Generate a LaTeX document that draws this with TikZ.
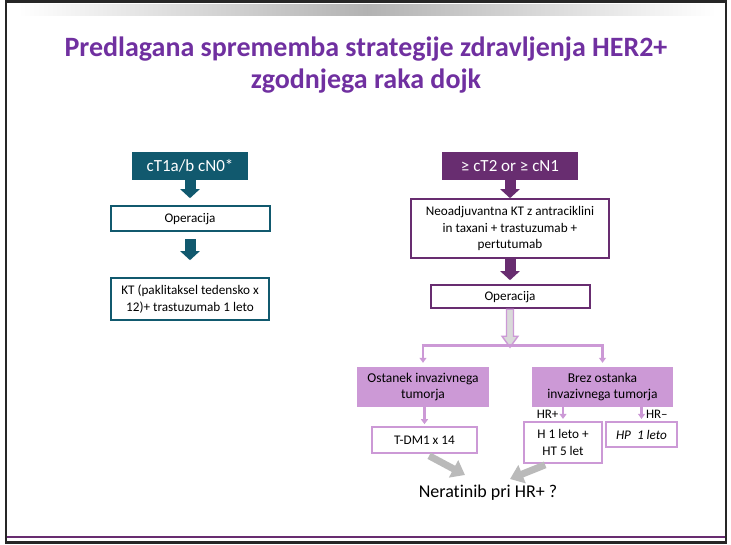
\documentclass[tikz,border=0pt]{standalone}
\usepackage{fontspec}
\setmainfont{Carlito}[Ligatures=NoCommon]
\usetikzlibrary{arrows.meta, positioning}
\usepackage{xcolor}
\definecolor{deepteal}{RGB}{17,89,110}
\definecolor{deepplum}{RGB}{104,45,112}
\definecolor{lilac}{RGB}{204,153,214}
\definecolor{titleplum}{RGB}{112,48,160}
\tikzset{
  headbox/.style = {rectangle, text=white, inner sep=0pt, minimum height=28pt, font=\fontsize{17}{20}\selectfont},
  stepbox/.style = {rectangle, draw, line width=2pt, fill=white, inner sep=0pt, align=center, font=\fontsize{13.2}{16.5}\selectfont},
  lilacbox/.style = {rectangle, fill=lilac, inner sep=0pt, align=center, minimum height=40pt, font=\fontsize{13.5}{16.5}\selectfont},
  lilacstep/.style = {stepbox, draw=lilac, line width=2.2pt},
  thickarrow/.style = {line width=11pt, -{Triangle[width=19pt, length=9pt]}},
  drop/.style = {draw=lilac, line width=2.5pt, -{Triangle[width=7pt, length=5pt]}},
  grayarrow/.style = {draw=black!27, line width=7pt, -{Triangle[width=19pt, length=13pt]}}
}

\begin{document}
\begin{tikzpicture}[x=1pt, y=-1pt]
\useasboundingbox (0,0) rectangle (731,544);

% slide frame
\shade[left color=white, right color=white, middle color=black!30] (18,4) rectangle (716,15);
\draw[line width=2.2pt, black!85] (6,1.5) rectangle (726,542.5);
\draw[line width=2pt, deepplum] (7,537) -- (725,537);

\node[font=\fontsize{28}{32}\selectfont\bfseries, text=titleplum, align=center] (title) at (366,65)
  {Predlagana sprememba strategije zdravljenja HER2+\\zgodnjega raka dojk};

% small tumours
\node[headbox, fill=deepteal, minimum width=116pt] (smallT) at (190,166) {cT1a/b cN0*};
\node[stepbox, draw=deepteal, below=25pt of smallT, minimum width=159pt, minimum height=25pt] (opSmall) {Operacija};
\node[stepbox, draw=deepteal, below=45pt of opSmall, minimum width=158pt, minimum height=42pt] (ktSmall)
  {KT (paklitaksel tedensko x\\12)+ trastuzumab 1 leto};

\draw[thickarrow, deepteal, shorten >=7pt] (smallT) -- (opSmall);
\draw[thickarrow, deepteal, shorten <=7pt, shorten >=17pt] (opSmall) -- (ktSmall);

% larger tumours
\node[headbox, fill=deepplum, minimum width=136pt] (largeT) at (510,166) {≥ cT2 or ≥ cN1};
\node[stepbox, draw=deepplum, below=18pt of largeT, minimum width=198pt, minimum height=59pt] (neoadj)
  {Neoadjuvantna KT z antraciklini\\in taxani + trastuzumab +\\pertutumab};
\node[stepbox, draw=deepplum, below=25pt of neoadj, minimum width=159pt, minimum height=23pt] (opLarge) {Operacija};

\draw[thickarrow, deepplum] (largeT) -- (neoadj);
\draw[thickarrow, deepplum, shorten >=4pt] (neoadj) -- (opLarge);

% split after surgery
\path (opLarge.south) coordinate (opOut);
\draw[draw=lilac, line width=1.4pt, fill=black!15] (opOut) ++(-3.5,0) -- ++(0,27) -- ++(-4.5,0)
  -- ++(8,11) -- ++(8,-11) -- ++(-4.5,0) -- ++(0,-27) -- cycle;

\node[lilacbox, minimum width=132pt] (residual) at (423,387) {Ostanek invazivnega\\tumorja};
\node[lilacbox, minimum width=141pt] (noResidual) at (602.5,387) {Brez ostanka\\invazivnega tumorja};

\coordinate (forkL) at (423,345);
\coordinate (forkR) at (602.5,345);
\draw[draw=lilac, line width=3pt] ([xshift=-1.5pt]forkL) -- ([xshift=1.5pt]forkR);
\draw[drop, shorten >=4pt] (forkL) -- (residual);
\draw[drop, shorten >=4pt] (forkR) -- (noResidual);

\node[lilacstep, below=19pt of residual, xshift=1.5pt, minimum width=105pt, minimum height=26pt] (tdm) {T-DM1 x 14};
\node[lilacstep, minimum width=78pt, minimum height=41pt] (hrPos) at (563,442.5) {H 1 leto +\\HT 5 let};
\node[lilacstep, minimum width=71pt, minimum height=25pt] (hrNeg) at (641.5,434.5) {\itshape HP\ \ 1 leto};

\draw[drop, shorten >=2pt] (residual.south -| tdm) -- (tdm);
\draw[drop, shorten >=2pt] (noResidual.south -| hrPos) -- node[left, font=\fontsize{13}{15}\selectfont] {HR+} (hrPos);
\draw[drop, shorten >=2pt] (noResidual.south -| hrNeg) -- node[right, font=\fontsize{13}{15}\selectfont] {HR–} (hrNeg);

% extended adjuvant question
\node[font=\fontsize{18}{21}\selectfont] (neratinib) at (488,493) {Neratinib pri HR+ ?};
\coordinate (tipL) at (465,475);
\coordinate (tipR) at (510,479);
\draw[grayarrow, shorten <=3pt] ([xshift=2pt]tdm.south) -- (tipL);
\draw[grayarrow, shorten <=2pt] ([xshift=-16pt]hrPos.south) -- (tipR);

\end{tikzpicture}
\end{document}
